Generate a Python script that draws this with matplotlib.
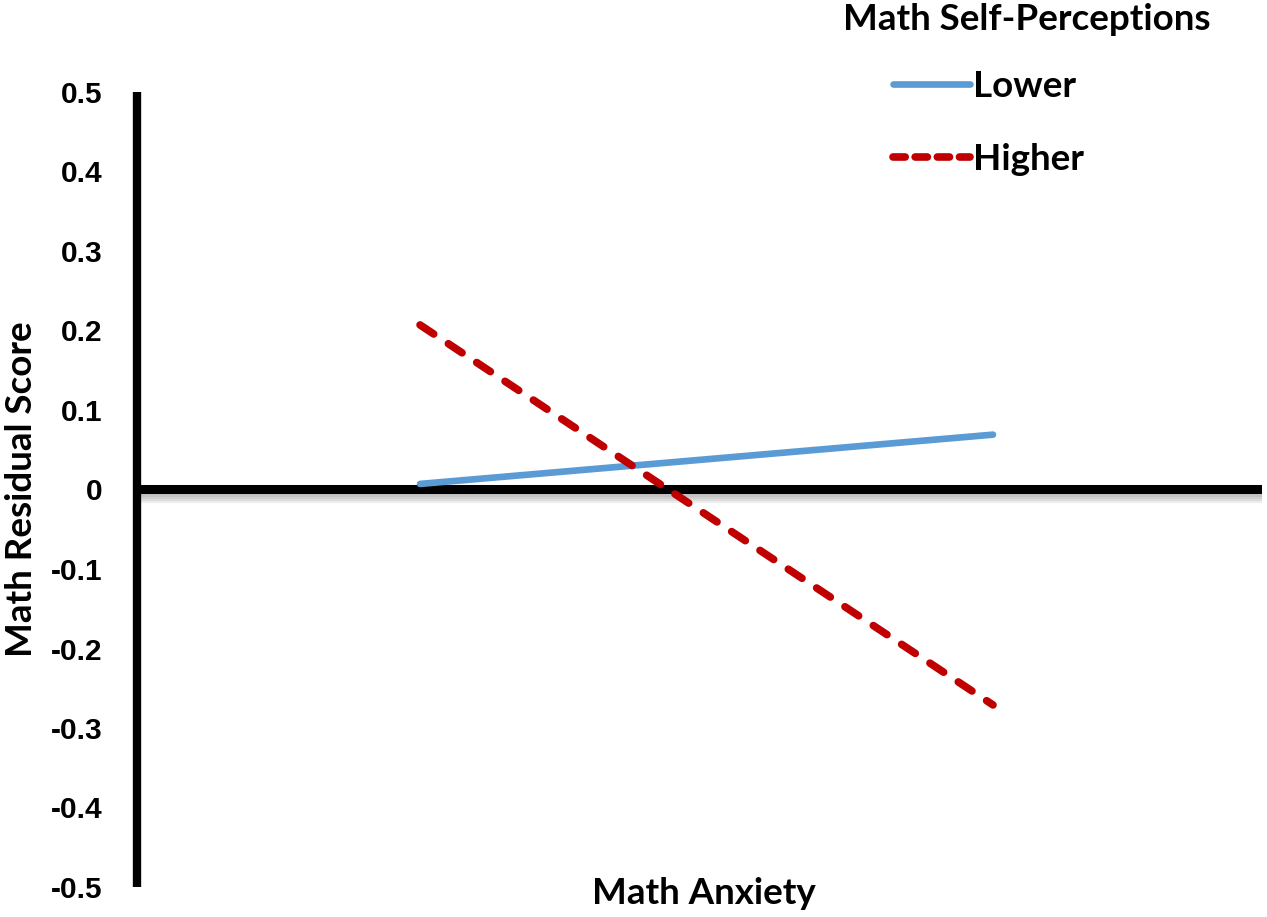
import matplotlib
matplotlib.use("Agg")
import matplotlib.pyplot as plt
import matplotlib.patheffects as pe
from matplotlib.lines import Line2D

# data
anxiety = [-1, 1]                 # low / high math anxiety
lower_sp = [0.007, 0.069]
higher_sp = [0.207, -0.271]
series_labels = ["Lower", "Higher"]
yticks = [0.5, 0.4, 0.3, 0.2, 0.1, 0, -0.1, -0.2, -0.3, -0.4, -0.5]
ytick_labels = ["0.5", "0.4", "0.3", "0.2", "0.1", "0", "-0.1", "-0.2", "-0.3", "-0.4", "-0.5"]

blue = "#5B9BD5"
red = "#C00000"
label_font = ["Lato", "DejaVu Sans"]
fs = 26.5

fig = plt.figure(figsize=(12.67, 9.17), dpi=100)
ax = fig.add_axes([137 / 1267, 30 / 917, 1125 / 1267, 795 / 917])

# zero line with a soft grey shadow underneath
shadow = [pe.SimpleLineShadow(offset=(0, -k), shadow_color="gray", alpha=0.14, rho=1.0)
          for k in (1.5, 3, 4.5, 6)]
ax.axhline(0, color="black", lw=6.5, zorder=2, path_effects=shadow + [pe.Normal()])

ax.plot(anxiety, lower_sp, color=blue, lw=4.8, solid_capstyle="round", zorder=3)
ax.plot(anxiety, higher_sp, color=red, lw=5.5, dashes=(2.15, 2.3),
        dash_capstyle="round", zorder=3)

ax.set_xlim(-1.988, 1.939)
ax.set_ylim(-0.5, 0.5)

for s in ["top", "right", "bottom"]:
    ax.spines[s].set_visible(False)
ax.spines["left"].set_linewidth(6)
ax.spines["left"].set_capstyle("butt")
ax.spines["left"].set_zorder(4)

ax.set_xticks([])
ax.set_yticks(yticks)
ax.set_yticklabels(ytick_labels, family="Liberation Sans", fontweight="bold", fontsize=21.5)
ax.tick_params(axis="y", length=0, pad=25)

fig.text(22 / 1267, 1 - 489 / 917, "Math Residual Score", rotation=90,
         ha="center", va="center", family=label_font, fontweight="bold", fontsize=fs)
fig.text(704 / 1267, 1 - 894 / 917, "Math Anxiety", ha="center", va="center",
         family=label_font, fontweight="bold", fontsize=fs)
fig.text(843 / 1267, 1 - 20 / 917, "Math Self-Perceptions", ha="left", va="center",
         family=label_font, fontweight="bold", fontsize=fs)

handles = [
    Line2D([], [], color=blue, lw=4.8, solid_capstyle="round"),
    Line2D([], [], color=red, lw=5.5, dashes=(1.6, 1.3), dash_capstyle="round"),
]
leg = fig.legend(handles, series_labels, loc="upper left",
                 bbox_to_anchor=(860 / 1267, 1 - 37 / 917), frameon=False,
                 handlelength=2.1, handletextpad=0.08, labelspacing=1.07,
                 prop={"family": label_font, "weight": "bold", "size": fs})

fig.savefig("out.png", dpi=100, facecolor="white")
